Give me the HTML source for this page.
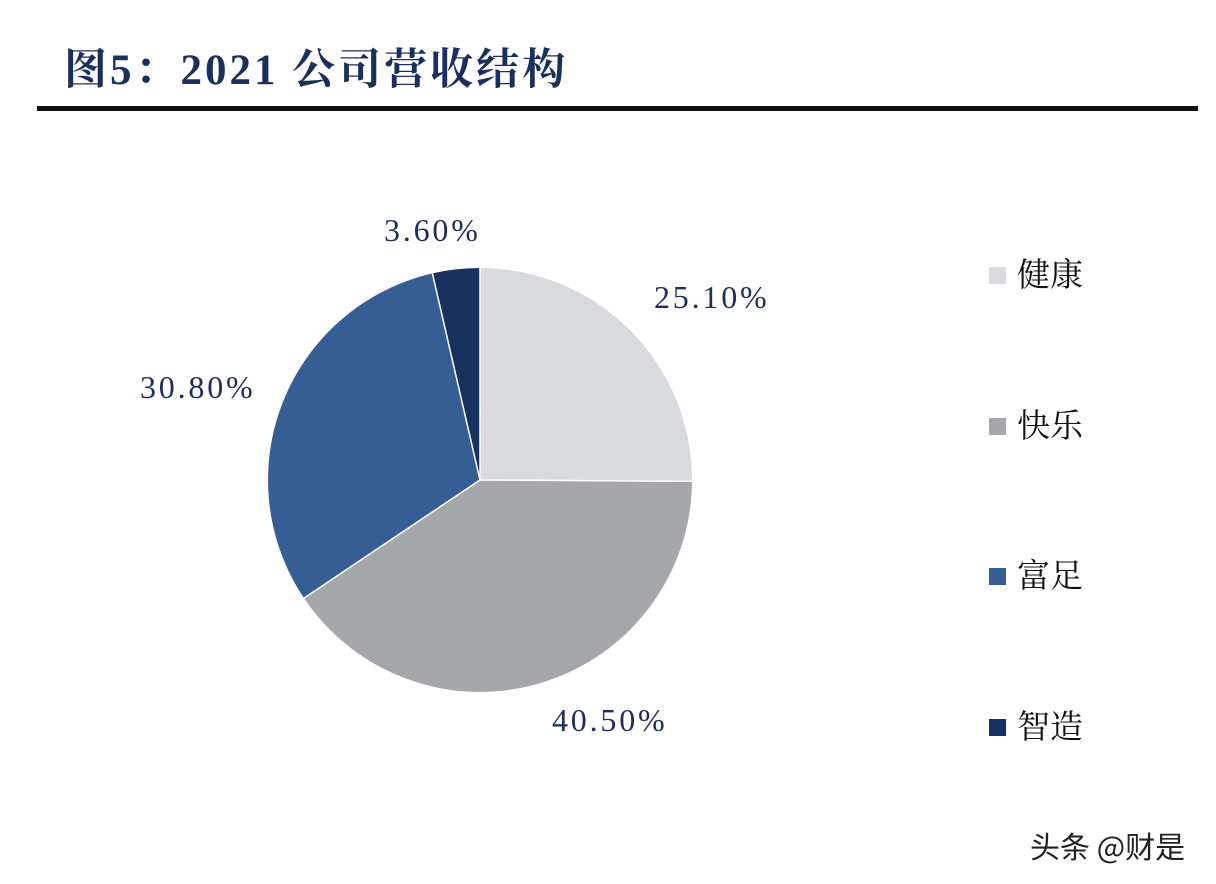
<!DOCTYPE html>
<html><head><meta charset="utf-8"><style>
body{margin:0;width:1216px;height:884px;background:#fff;position:relative;overflow:hidden}
.t{position:absolute;white-space:nowrap}
.title{left:64px;top:36px;font:bold 43px "Liberation Serif","Noto Serif CJK SC",serif;color:#1b2f5c;letter-spacing:3px}
.line{position:absolute;left:37px;top:106px;width:1161px;height:5px;background:#111}
.lbl{font:32px "Liberation Serif",serif;color:#1f2d5a;letter-spacing:2.8px}
.leg{font:33px "Noto Serif CJK SC","Liberation Serif",serif;color:#111;left:1017px}
.sq{position:absolute;left:989px;width:17px;height:17px}
</style></head><body>
<div class="t title">图5：2021 公司营收结构</div>
<div class="line"></div>
<svg width="1216" height="884" style="position:absolute;left:0;top:0">
<path d="M480,480 L480,268 A212,212 0 0 1 692,481.3 Z" fill="#d9dadd"/>
<path d="M480,480 L692,481.3 A212,212 0 0 1 304,598.1 Z" fill="#a6a7aa"/>
<path d="M480,480 L304,598.1 A212,212 0 0 1 432.4,273.4 Z" fill="#365e95"/>
<path d="M480,480 L432.4,273.4 A212,212 0 0 1 480,268 Z" fill="#17325f"/>
<g stroke="#fff" stroke-width="1.5"><line x1="480" y1="480" x2="480" y2="268"/><line x1="480" y1="480" x2="692" y2="481.3"/><line x1="480" y1="480" x2="304" y2="598.1"/><line x1="480" y1="480" x2="432.4" y2="273.4"/></g>
</svg>
<div class="t lbl" style="left:384px;top:212px">3.60%</div>
<div class="t lbl" style="left:654px;top:279px">25.10%</div>
<div class="t lbl" style="left:140px;top:369px">30.80%</div>
<div class="t lbl" style="left:552px;top:702px">40.50%</div>
<div class="sq" style="top:267px;background:#d9dadd"></div>
<div class="t leg" style="top:249px">健康</div>
<div class="sq" style="top:418px;background:#a6a7aa"></div>
<div class="t leg" style="top:400px">快乐</div>
<div class="sq" style="top:568px;background:#365e95"></div>
<div class="t leg" style="top:550px">富足</div>
<div class="sq" style="top:719px;background:#17325f"></div>
<div class="t leg" style="top:701px">智造</div>
<div class="t" style="left:1030px;top:823px;font:30px 'Noto Sans CJK SC',sans-serif;color:#222">头条 @财是</div>
</body></html>
